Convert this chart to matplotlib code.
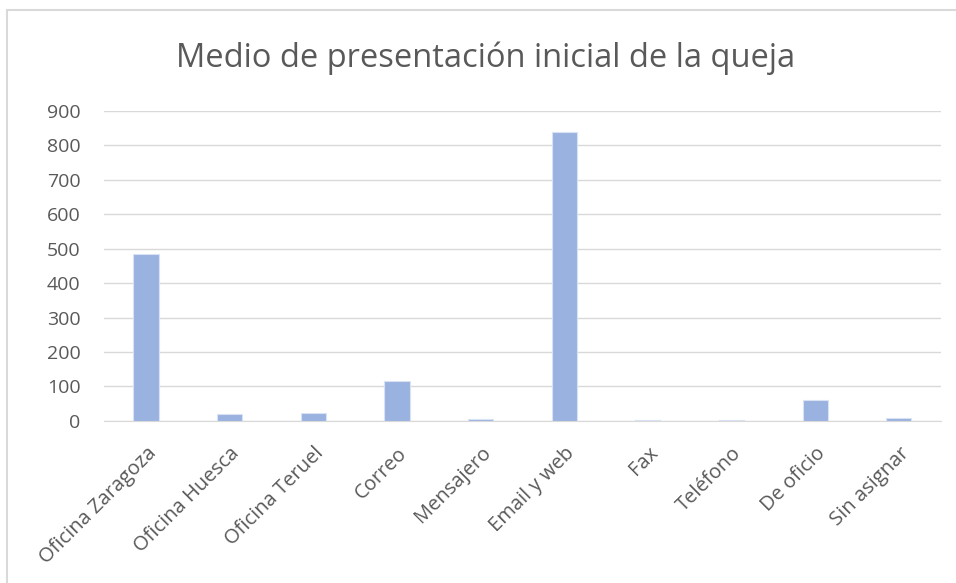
import numpy as np
import matplotlib.pyplot as plt
from matplotlib.patches import Rectangle

categorias = ["Oficina Zaragoza", "Oficina Huesca", "Oficina Teruel", "Correo", "Mensajero",
              "Email y web", "Fax", "Teléfono", "De oficio", "Sin asignar"]
valores = [485, 20, 24, 117, 5, 839, 4, 4, 61, 9]

plt.rcParams['font.family'] = ['Open Sans', 'DejaVu Sans']

fig = plt.figure(figsize=(9.56, 5.83), dpi=100)
ax = fig.add_axes([0.109, 0.278, 0.875, 0.532])

x = np.arange(len(categorias))
ax.bar(x, valores, width=0.3, color='#9AB2DF', edgecolor='#D9E2F3', linewidth=0.8, zorder=3)

ax.set_ylim(0, 900)
ax.set_xlim(-0.5, len(categorias) - 0.5)
ax.set_yticks(np.arange(0, 901, 100))
ax.yaxis.grid(True, color='#D9D9D9', linewidth=1, zorder=0)
for s in ['top', 'right', 'left']:
    ax.spines[s].set_visible(False)
ax.spines['bottom'].set_color('#D9D9D9')
ax.tick_params(axis='both', length=0, labelsize=14, colors='#595959')
ax.tick_params(axis='y', pad=17)
ax.tick_params(axis='x', pad=16, labelsize=14.5)
ax.set_xticks(x)
ax.set_xticklabels(categorias, rotation=45, ha='right', rotation_mode='anchor')

fig.text(0.508, 0.90, "Medio de presentación inicial de la queja", ha='center', va='center',
         fontsize=23.5, color='#595959')

fig.patches.append(Rectangle((0.007, -0.05), 1.1, 1.033, transform=fig.transFigure,
                             fill=False, edgecolor='#D9D9D9', linewidth=1.5))

fig.savefig("out.png", dpi=100)
